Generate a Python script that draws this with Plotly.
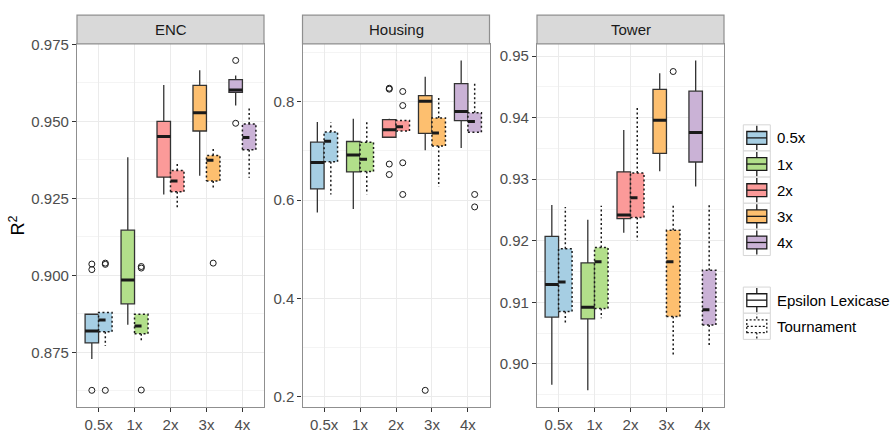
import plotly.graph_objects as go

W, H = 891, 433
FONT = "Liberation Sans, Arial, Helvetica, sans-serif"

# ---------------- data ----------------
sizes = ["0.5x", "1x", "2x", "3x", "4x"]
methods = ["Epsilon Lexicase", "Tournament"]
panel_names = ["ENC", "Housing", "Tower"]
size_colors = ["#A6CEE3", "#B2DF8A", "#FB9A99", "#FDBF6F", "#CAB2D6"]

# ENC
enc_el_lower = [0.8729, 0.8840, 0.9263, 0.9324, 0.9552]
enc_el_q1 = [0.8781, 0.8908, 0.9319, 0.9469, 0.9594]
enc_el_med = [0.8820, 0.8985, 0.9451, 0.9528, 0.9602]
enc_el_q3 = [0.8874, 0.9147, 0.9500, 0.9617, 0.9636]
enc_el_upper = [0.8874, 0.9384, 0.9618, 0.9666, 0.9649]
enc_el_out = [[0.9037, 0.9019, 0.8627], [], [], [], [0.9698, 0.9494]]

enc_t_lower = [0.8771, 0.8782, 0.9220, 0.9277, 0.9317]
enc_t_q1 = [0.8817, 0.8811, 0.9272, 0.9307, 0.9408]
enc_t_med = [0.8855, 0.8836, 0.9307, 0.9374, 0.9448]
enc_t_q3 = [0.8880, 0.8874, 0.9341, 0.9389, 0.9492]
enc_t_upper = [0.8880, 0.8874, 0.9370, 0.9418, 0.9543]
enc_t_out = [[0.9040, 0.9036, 0.8627], [0.9029, 0.9024, 0.8628], [], [0.9040], []]

# Housing
hou_el_lower = [0.5747, 0.5820, 0.7276, 0.7010, 0.7056]
hou_el_q1 = [0.6226, 0.6571, 0.7276, 0.7355, 0.7615]
hou_el_med = [0.6764, 0.6917, 0.7429, 0.8007, 0.7801]
hou_el_q3 = [0.7176, 0.7189, 0.7635, 0.8120, 0.8365]
hou_el_upper = [0.7588, 0.7654, 0.7650, 0.8505, 0.8837]
hou_el_out = [[], [], [0.8272, 0.8253, 0.6731, 0.6518], [0.2132], []]

hou_t_lower = [0.6113, 0.6119, 0.7402, 0.6272, 0.7375]
hou_t_q1 = [0.6777, 0.6578, 0.7402, 0.7096, 0.7375]
hou_t_med = [0.7196, 0.6830, 0.7488, 0.7362, 0.7595]
hou_t_q3 = [0.7382, 0.7176, 0.7615, 0.7668, 0.7774]
hou_t_upper = [0.7575, 0.7588, 0.7615, 0.8106, 0.8372]
hou_t_out = [[], [], [0.8206, 0.7920, 0.6757, 0.6113], [], [0.6113, 0.5860]]

# Tower
tow_el_lower = [0.8966, 0.8957, 0.9213, 0.9313, 0.9288]
tow_el_q1 = [0.9076, 0.9073, 0.9236, 0.9342, 0.9328]
tow_el_med = [0.9129, 0.9092, 0.9242, 0.9396, 0.9376]
tow_el_q3 = [0.9207, 0.9164, 0.9312, 0.9446, 0.9443]
tow_el_upper = [0.9258, 0.9234, 0.9380, 0.9472, 0.9493]
tow_el_out = [[], [], [], [], []]

tow_t_lower = [0.9063, 0.9074, 0.9201, 0.9013, 0.9027]
tow_t_q1 = [0.9085, 0.9090, 0.9238, 0.9077, 0.9063]
tow_t_med = [0.9133, 0.9166, 0.9270, 0.9166, 0.9088]
tow_t_q3 = [0.9187, 0.9189, 0.9310, 0.9217, 0.9152]
tow_t_upper = [0.9255, 0.9257, 0.9416, 0.9259, 0.9259]
tow_t_out = [[], [], [], [0.9475], []]

# y-axis tick settings per panel
y_dticks = [0.025, 0.2, 0.01]
y_formats = [".3f", ".1f", ".2f"]

# ---------------- build ----------------
panels = [
    {"el": (enc_el_lower, enc_el_q1, enc_el_med, enc_el_q3, enc_el_upper, enc_el_out),
     "t": (enc_t_lower, enc_t_q1, enc_t_med, enc_t_q3, enc_t_upper, enc_t_out)},
    {"el": (hou_el_lower, hou_el_q1, hou_el_med, hou_el_q3, hou_el_upper, hou_el_out),
     "t": (hou_t_lower, hou_t_q1, hou_t_med, hou_t_q3, hou_t_upper, hou_t_out)},
    {"el": (tow_el_lower, tow_el_q1, tow_el_med, tow_el_q3, tow_el_upper, tow_el_out),
     "t": (tow_t_lower, tow_t_q1, tow_t_med, tow_t_q3, tow_t_upper, tow_t_out)},
]

panel_px = [(77.0, 264.0), (302.5, 489.5), (537.0, 724.0)]
top_px, bot_px, strip_top_px = 36.7, 407.3, 7.3
BW = 0.375
DARK = "#1A1A1A"
BORDER = "#8F8F8F"


def px_x(p):
    return p / W


def px_y(p):
    return 1 - p / H


fig = go.Figure()
layout = {}
shapes = []
annotations = []

for pi, pan in enumerate(panels):
    ax = "" if pi == 0 else str(pi + 1)
    xref, yref = "x" + ax, "y" + ax
    allv = []
    for key, offset in (("el", -BW / 2), ("t", BW / 2)):
        lower, q1, med, q3, upper, outs = pan[key]
        allv += lower + upper + [v for o in outs for v in o]
        for si in range(len(sizes)):
            pos = si + 1 + offset
            l, r = pos - BW / 2, pos + BW / 2
            solid = key == "el"
            fig.add_trace(go.Box(
                x=[pos], q1=[q1[si]], median=[med[si]], q3=[q3[si]],
                lowerfence=[lower[si]], upperfence=[upper[si]],
                width=BW, whiskerwidth=0, boxpoints=False,
                fillcolor=size_colors[si],
                line=dict(color="#333333" if solid else size_colors[si], width=1.3 if solid else 0),
                xaxis=xref, yaxis=yref, showlegend=False, hoverinfo="skip"))
            if solid:
                fig.add_trace(go.Scatter(
                    x=[l, r], y=[med[si], med[si]], mode="lines",
                    line=dict(color=DARK, width=3), xaxis=xref, yaxis=yref,
                    showlegend=False, hoverinfo="skip"))
            else:
                fig.add_trace(go.Scatter(
                    x=[l, r, r, l, l, None, pos, pos, None, pos, pos],
                    y=[q1[si], q1[si], q3[si], q3[si], q1[si], None,
                       q3[si], upper[si], None, q1[si], lower[si]],
                    mode="lines", connectgaps=False,
                    line=dict(color=DARK, width=1.5, dash="2px,2.5px"),
                    xaxis=xref, yaxis=yref, showlegend=False, hoverinfo="skip"))
                fig.add_trace(go.Scatter(
                    x=[l, r], y=[med[si], med[si]], mode="lines",
                    line=dict(color=DARK, width=3, dash="7px,60px"),
                    xaxis=xref, yaxis=yref, showlegend=False, hoverinfo="skip"))
            if outs[si]:
                fig.add_trace(go.Scatter(
                    x=[pos] * len(outs[si]), y=outs[si], mode="markers",
                    marker=dict(symbol="circle-open", size=6, color=DARK,
                                line=dict(width=1, color=DARK)),
                    xaxis=xref, yaxis=yref, showlegend=False, hoverinfo="skip"))

    vmin, vmax = min(allv), max(allv)
    pad = (vmax - vmin) * 0.05
    x0, x1 = panel_px[pi]
    layout["xaxis" + ax] = dict(
        domain=[px_x(x0), px_x(x1)], range=[0.4, len(sizes) + 0.6], anchor=yref,
        tickmode="array", tickvals=list(range(1, len(sizes) + 1)), ticktext=sizes,
        showgrid=True, gridcolor="#EBEBEB", gridwidth=1, zeroline=False,
        ticks="outside", ticklen=4, tickwidth=1, tickcolor="#333333",
        showline=True, linecolor=BORDER, linewidth=1.2, mirror=True,
        tickfont=dict(family=FONT, size=15, color="#4D4D4D"), fixedrange=True)
    layout["yaxis" + ax] = dict(
        domain=[px_y(bot_px), px_y(top_px)], range=[vmin - pad, vmax + pad], anchor=xref,
        tick0=0, dtick=y_dticks[pi], tickformat=y_formats[pi],
        showgrid=True, gridcolor="#EBEBEB", gridwidth=1, zeroline=False,
        minor=dict(dtick=y_dticks[pi] / 2, showgrid=True, gridcolor="#F4F4F4", gridwidth=0.7),
        ticks="outside", ticklen=4, tickwidth=1, tickcolor="#333333",
        showline=True, linecolor=BORDER, linewidth=1.2, mirror=True,
        tickfont=dict(family=FONT, size=15, color="#4D4D4D"), fixedrange=True)
    # strip
    shapes.append(dict(type="rect", xref="paper", yref="paper",
                       x0=px_x(x0), x1=px_x(x1), y0=px_y(top_px), y1=px_y(strip_top_px),
                       fillcolor="#D9D9D9", line=dict(color=BORDER, width=1.2)))
    annotations.append(dict(xref="paper", yref="paper", x=px_x((x0 + x1) / 2),
                            y=px_y((top_px + strip_top_px) / 2), text=panel_names[pi],
                            showarrow=False, xanchor="center", yanchor="middle",
                            font=dict(family=FONT, size=15, color=DARK)))

# y title
annotations.append(dict(xref="paper", yref="paper", x=px_x(17), y=px_y((top_px + bot_px) / 2),
                        text="R<sup>2</sup>", textangle=-90, showarrow=False,
                        xanchor="center", yanchor="middle",
                        font=dict(family=FONT, size=18, color="black")))

# ---------------- legend (drawn manually in ggplot style) ----------------
KX0, KX1 = 743.3, 770.3
KS = 26.7


def key(ytop, fill, dotted, label):
    kb = ytop + KS
    cx = (KX0 + KX1) / 2
    shapes.append(dict(type="rect", xref="paper", yref="paper",
                       x0=px_x(KX0), x1=px_x(KX1), y0=px_y(kb), y1=px_y(ytop),
                       fillcolor="white", line=dict(color="#D6D6D6", width=1)))
    ln = dict(color=DARK, width=1.3, dash="2px,2px" if dotted else "solid")
    shapes.append(dict(type="line", xref="paper", yref="paper",
                       x0=px_x(cx), x1=px_x(cx), y0=px_y(kb - 1), y1=px_y(ytop + 1), line=ln))
    shapes.append(dict(type="rect", xref="paper", yref="paper",
                       x0=px_x(KX0 + 3.5), x1=px_x(KX1 - 3.5), y0=px_y(kb - 6.8), y1=px_y(ytop + 6.8),
                       fillcolor=fill, line=ln))
    shapes.append(dict(type="line", xref="paper", yref="paper",
                       x0=px_x(KX0 + 3.5), x1=px_x(KX1 - 3.5),
                       y0=px_y(ytop + KS / 2), y1=px_y(ytop + KS / 2), line=ln))
    annotations.append(dict(xref="paper", yref="paper", x=px_x(775), y=px_y(ytop + KS / 2),
                            text=label, showarrow=False, xanchor="left", yanchor="middle",
                            font=dict(family=FONT, size=15, color="black")))


for si, s in enumerate(sizes):
    key(119.3 + KS * si, size_colors[si], False, s)
for mi, m in enumerate(methods):
    key(285.0 + KS * mi, "white", mi == 1, m)

fig.update_layout(
    width=W, height=H, margin=dict(l=0, r=0, t=0, b=0),
    paper_bgcolor="white", plot_bgcolor="white",
    boxmode="overlay", showlegend=False,
    font=dict(family=FONT),
    shapes=shapes, annotations=annotations, **layout)

fig.write_html("out.html", config={"displayModeBar": False},
               post_script="document.body.style.margin='0';document.body.style.overflow='hidden';")
